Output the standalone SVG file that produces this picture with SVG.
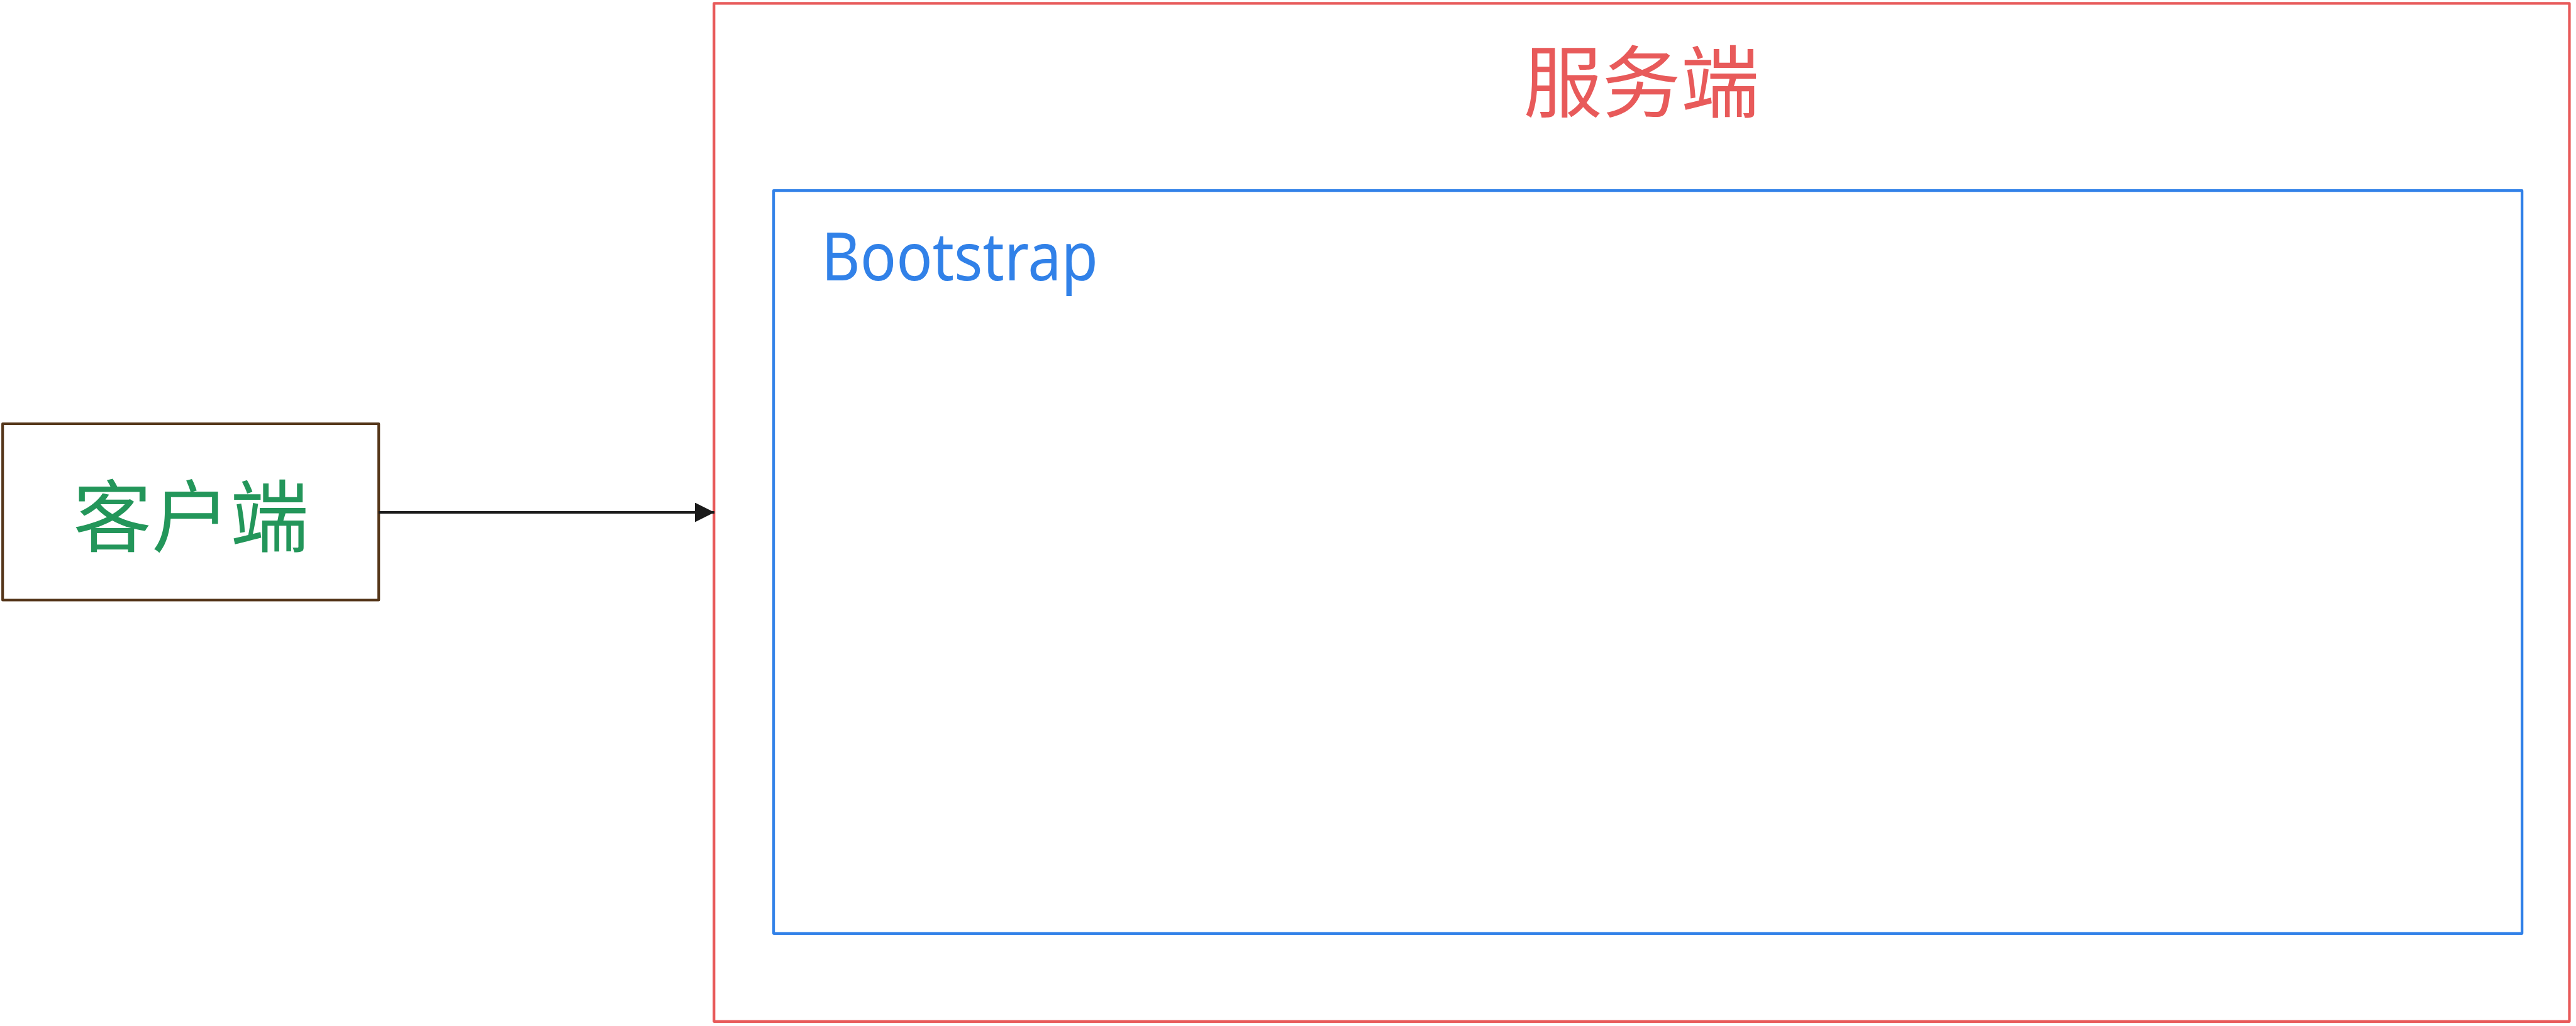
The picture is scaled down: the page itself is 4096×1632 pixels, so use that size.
<svg xmlns="http://www.w3.org/2000/svg" width="4096" height="1632" viewBox="0 0 4096 1632">
<style>
.box{fill:none;stroke-width:4.2;stroke-linejoin:round}
.cjk{font-family:"Noto Sans CJK SC","Noto Sans",sans-serif;font-size:125px;text-anchor:middle}
.lat{font-family:"Noto Sans","Open Sans",sans-serif;font-size:106px}
</style>
<defs>
<marker id="arrow" markerUnits="userSpaceOnUse" markerWidth="32" markerHeight="32" refX="31" refY="15.5" orient="auto">
<polygon points="0,0 31,15.5 0,31" fill="#1a1a1a"/>
</marker>
</defs>
<rect width="4096" height="1632" fill="#ffffff"/>
<g id="server">
<rect class="box" x="1135.3" y="5.4" width="2950.2" height="1619.4" stroke="#e85a5a"/>
<text class="cjk" x="2610" y="177" fill="#e85a5a">服务端</text>
</g>
<g id="bootstrap">
<rect class="box" x="1230.1" y="303.2" width="2780.1" height="1181.6" stroke="#3181e8"/>
<text class="lat" x="1306" y="446" fill="#3181e8" textLength="440" lengthAdjust="spacingAndGlyphs">Bootstrap</text>
</g>
<g id="client">
<rect class="box" x="4.2" y="674" width="598" height="280.5" stroke="#55361a"/>
<text class="cjk" x="303.5" y="868" fill="#23965a">客户端</text>
</g>
<g id="connectors">
<line x1="602" y1="815" x2="1136" y2="815" stroke="#1a1a1a" stroke-width="4.2" marker-end="url(#arrow)"/>
</g>
</svg>
